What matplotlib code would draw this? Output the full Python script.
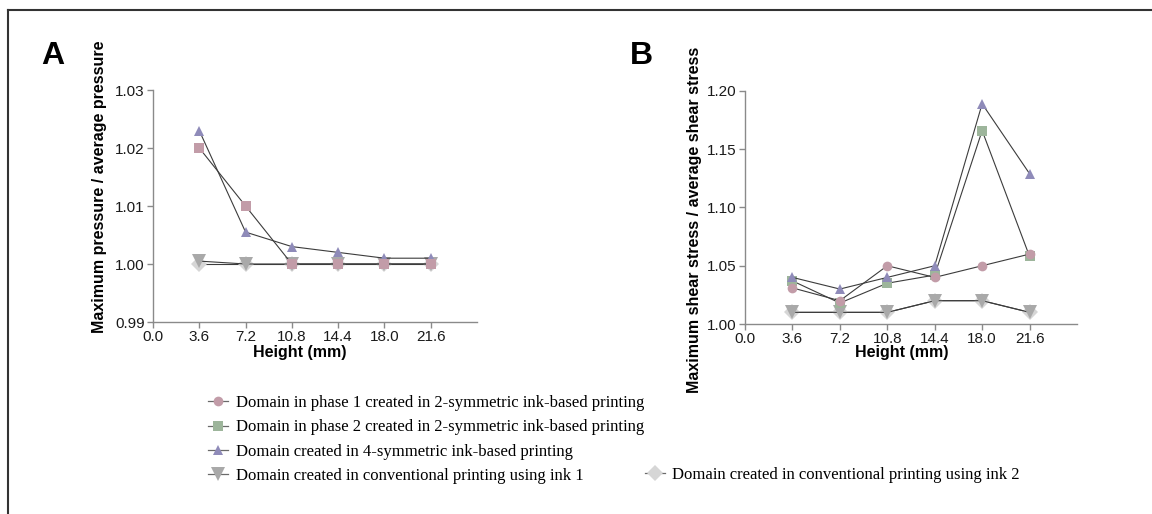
import matplotlib
matplotlib.use("Agg")
import matplotlib.pyplot as plt
from matplotlib.lines import Line2D

plt.rcParams['font.family'] = ['Liberation Sans', 'DejaVu Sans']

# ---------------- data ----------------
heights = [3.6, 7.2, 10.8, 14.4, 18.0, 21.6]
x_ticks = [0.0, 3.6, 7.2, 10.8, 14.4, 18.0, 21.6]

# Panel A: maximum pressure / average pressure
a_phase = [1.020, 1.010, 1.000, 1.000, 1.000, 1.000]
a_sym4 = [1.023, 1.0055, 1.003, 1.002, 1.001, 1.001]
a_ink1 = [1.0005, 1.000, 1.000, 1.000, 1.000, 1.000]
a_ink2 = [1.000, 1.000, 1.000, 1.000, 1.000, 1.000]
a_yticks = [0.99, 1.00, 1.01, 1.02, 1.03]

# Panel B: maximum shear stress / average shear stress
b_phase1 = [1.031, 1.020, 1.050, 1.040, 1.050, 1.060]
b_phase2 = [1.037, 1.018, 1.035, 1.042, 1.166, 1.058]
b_sym4 = [1.040, 1.030, 1.040, 1.050, 1.189, 1.129]
b_ink1 = [1.010, 1.010, 1.010, 1.020, 1.020, 1.010]
b_ink2 = [1.010, 1.010, 1.010, 1.020, 1.020, 1.010]
b_yticks = [1.00, 1.05, 1.10, 1.15, 1.20]

labels = [
    "Domain in phase 1 created in 2-symmetric ink-based printing",
    "Domain in phase 2 created in 2-symmetric ink-based printing",
    "Domain created in 4-symmetric ink-based printing",
    "Domain created in conventional printing using ink 1",
    "Domain created in conventional printing using ink 2",
]

# ---------------- style ----------------
C_PINK = "#c29ca8"
C_GREEN = "#9db59b"
C_PURPLE = "#8f8bb9"
C_GRAY = "#a9a9a9"
C_LGRAY = "#d6d6d6"
C_LINE = "#3c3c3c"
C_AX = "#8a8a8a"

W, H = 1152, 514
fig = plt.figure(figsize=(W / 100, H / 100), dpi=100)


def rect(x0, x1, ytop, ybot):
    return [x0 / W, 1 - ybot / H, (x1 - x0) / W, (ybot - ytop) / H]


def style_axes(ax, yticks, ylim, yfmt):
    for s in ["top", "right"]:
        ax.spines[s].set_visible(False)
    for s in ["left", "bottom"]:
        ax.spines[s].set_color(C_AX)
        ax.spines[s].set_linewidth(1.0)
    ax.set_xlim(0, 25.2)
    ax.set_ylim(*ylim)
    ax.set_xticks(x_ticks)
    ax.set_xticklabels([f"{v:.1f}" for v in x_ticks])
    ax.set_yticks(yticks)
    ax.set_yticklabels([yfmt.format(v) for v in yticks])
    ax.tick_params(axis="both", direction="out", length=4, width=1.0,
                   color=C_AX, labelsize=11, labelcolor="#1a1a1a")
    ax.tick_params(axis="x", pad=2)
    ax.tick_params(axis="y", pad=2)
    ax.patch.set_alpha(0)


def series(ax, y, marker, color, ms, z):
    ax.plot(heights, y, color=C_LINE, lw=0.8, zorder=z, clip_on=False)
    ax.plot(heights, y, linestyle="none", marker=marker, color=color,
            markersize=ms, markeredgewidth=0, zorder=z + 0.5, clip_on=False)


# ---------------- panel A ----------------
axA = fig.add_axes(rect(153, 477, 90, 322))
style_axes(axA, a_yticks, (0.99, 1.03), "{:.2f}")
series(axA, a_ink2, "D", C_LGRAY, 8.5, 2)
series(axA, a_ink1, "v", C_GRAY, 10, 3)
series(axA, a_sym4, "^", C_PURPLE, 7.5, 4)
series(axA, a_phase, "s", C_PINK, 7, 5)
axA.set_ylabel("Maximum pressure / average pressure", fontsize=11.5,
               fontweight="bold", va="center")
axA.yaxis.set_label_coords((100 - 153) / 324, (322 - 187) / 232)
axA.set_xlabel("Height (mm)", fontsize=11.5, fontweight="bold", va="center")
axA.xaxis.set_label_coords((300 - 153) / 324, -(352 - 322) / 232)

# ---------------- panel B ----------------
axB = fig.add_axes(rect(745, 1077, 91, 324))
style_axes(axB, b_yticks, (1.00, 1.20), "{:.2f}")
series(axB, b_ink2, "D", C_LGRAY, 8.5, 2)
series(axB, b_ink1, "v", C_GRAY, 10, 3)
series(axB, b_phase2, "s", C_GREEN, 7, 4)
series(axB, b_phase1, "o", C_PINK, 7, 5)
series(axB, b_sym4, "^", C_PURPLE, 7.5, 6)
axB.set_ylabel("Maximum shear stress / average shear stress", fontsize=11.5,
               fontweight="bold", va="center")
axB.yaxis.set_label_coords((694 - 745) / 332, (324 - 220) / 233)
axB.set_xlabel("Height (mm)", fontsize=11.5, fontweight="bold", va="center")
axB.xaxis.set_label_coords((902 - 745) / 332, -(352 - 324) / 233)

# ---------------- panel letters ----------------
fig.text(53 / W, 1 - 56 / H, "A", fontsize=23, fontweight="bold",
         ha="center", va="center")
fig.text(641 / W, 1 - 56 / H, "B", fontsize=23, fontweight="bold",
         ha="center", va="center")

# ---------------- legend ----------------
def handle(marker, color, ms):
    return Line2D([0], [0], color="#6a6a6a", lw=0.9, marker=marker,
                  markerfacecolor=color, markeredgewidth=0, markersize=ms)


h = [handle("o", C_PINK, 7), handle("s", C_GREEN, 7),
     handle("^", C_PURPLE, 7.5), handle("v", C_GRAY, 10),
     handle("D", C_LGRAY, 8.5)]
serif = {"family": ["Liberation Serif", "DejaVu Serif"], "size": 12}
leg1 = fig.legend(h[:4], labels[:4], loc="upper left",
                  bbox_to_anchor=(208 / W, 1 - 395 / H), frameon=False,
                  prop=serif, handlelength=1.2, handletextpad=0.45,
                  labelspacing=0.5, borderpad=0, borderaxespad=0)
leg2 = fig.legend([h[4]], [labels[4]], loc="upper left",
                  bbox_to_anchor=(645 / W, 1 - 467 / H), frameon=False,
                  prop=serif, handlelength=1.2, handletextpad=0.45,
                  borderpad=0, borderaxespad=0)

# ---------------- outer frame (top and left edges) ----------------
fig.add_artist(Line2D([8 / W, 1.0], [1 - 10 / H, 1 - 10 / H],
                      transform=fig.transFigure, color="#333333", lw=1.5))
fig.add_artist(Line2D([8 / W, 8 / W], [1 - 10 / H, 0.0],
                      transform=fig.transFigure, color="#333333", lw=1.5))

fig.savefig("out.png", dpi=100, facecolor="white")
